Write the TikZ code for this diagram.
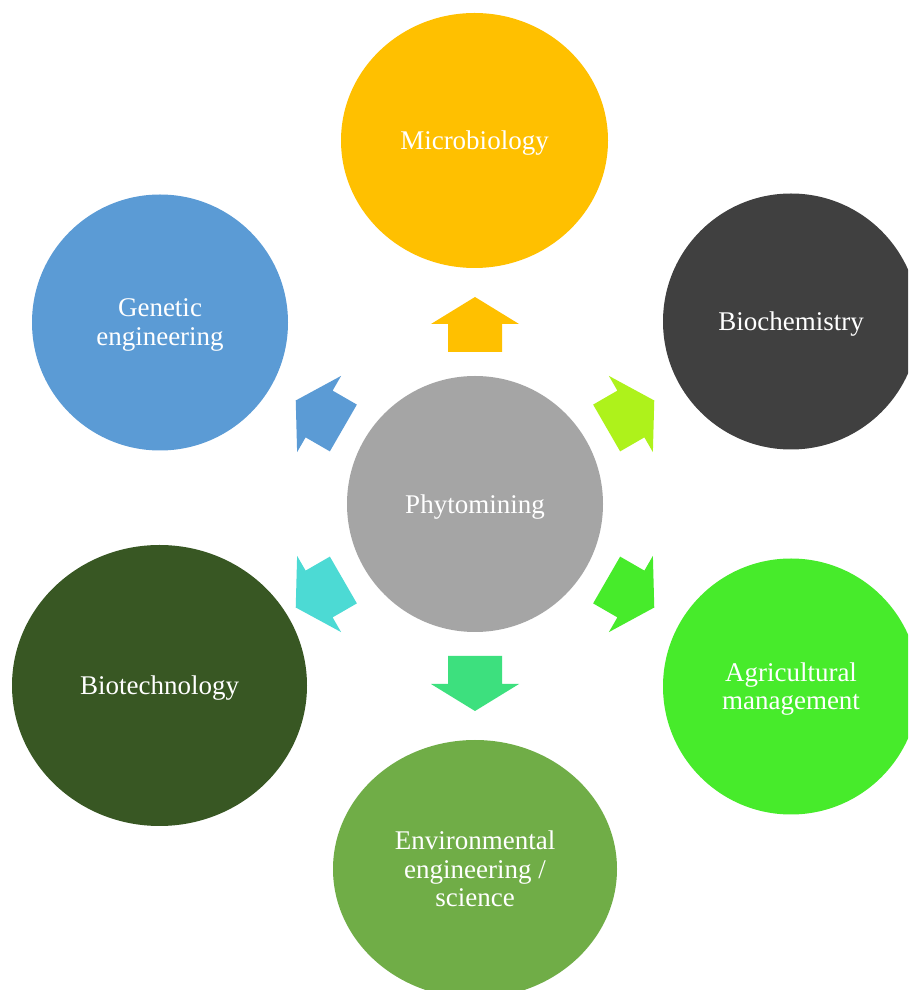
\documentclass[tikz,border=0pt]{standalone}
\usepackage{fontspec}
\setmainfont{Liberation Serif}
\usetikzlibrary{shapes.geometric}
\definecolor{cMicro}{HTML}{FFC000}
\definecolor{cBioch}{HTML}{404040}
\definecolor{cGen}{HTML}{5B9BD5}
\definecolor{cPhyto}{HTML}{A5A5A5}
\definecolor{cBiotech}{HTML}{385723}
\definecolor{cAgri}{HTML}{47EB2B}
\definecolor{cEnv}{HTML}{70AD47}
\definecolor{aUp}{HTML}{FFC000}
\definecolor{aUR}{HTML}{AEF21B}
\definecolor{aDR}{HTML}{47EB2B}
\definecolor{aDn}{HTML}{3DE07E}
\definecolor{aDL}{HTML}{4CDAD4}
\definecolor{aUL}{HTML}{5B9BD5}
\begin{document}
\begin{tikzpicture}[x=0.75pt,y=0.75pt,
  disc/.style={ellipse, draw=none, inner sep=0pt, outer sep=0pt},
  lbl/.style={text=white, align=center, inner sep=0pt,
    font=\fontsize{20.25}{21.4}\selectfont, yshift=-2pt}]
\useasboundingbox (0,0) rectangle (908,990);
\clip (0,0) rectangle (908,990);
\fill[white] (0,0) rectangle (908,990);

% circles
\node[disc, fill=cPhyto, minimum width=192pt, minimum height=192pt] (phyto) at (475,486) {};
\node[disc, fill=cMicro, minimum width=200.25pt, minimum height=191.25pt] (micro) at (474.5,849.5) {};
\node[disc, fill=cBioch, minimum width=192pt, minimum height=192pt] (bioch) at (791,668.5) {};
\node[disc, fill=cAgri, minimum width=192pt, minimum height=192pt] (agri) at (791,303.5) {};
\node[disc, fill=cEnv, minimum width=213pt, minimum height=193.5pt] (env) at (475,121) {};
\node[disc, fill=cBiotech, minimum width=221.25pt, minimum height=210.75pt] (biotech) at (159.5,304.5) {};
\node[disc, fill=cGen, minimum width=192pt, minimum height=192pt] (gen) at (160,667.5) {};

% labels
\node[lbl] (phyto-t) at (phyto.center) {Phytomining};
\node[lbl] (micro-t) at (micro.center) {Microbiology};
\node[lbl] (bioch-t) at (bioch.center) {Biochemistry};
\node[lbl] (agri-t) at (agri.center) {Agricultural\\management};
\node[lbl, yshift=2pt] (env-t) at (env.center) {Environmental\\engineering /\\science};
\node[lbl] (biotech-t) at (biotech.center) {Biotechnology};
\node[lbl] (gen-t) at (gen.center) {Genetic\\engineering};

% block arrows radiating from the centre
\foreach \ang/\col in {90/aUp, 30/aUR, -30/aDR, -90/aDn, 210/aDL, 150/aUL}
  \fill[\col, shift={(phyto.center)}, rotate=\ang]
    (152,-27) -- (180,-27) -- (180,-44) -- (207,0) -- (180,44) -- (180,27) -- (152,27) -- cycle;
\end{tikzpicture}
\end{document}
